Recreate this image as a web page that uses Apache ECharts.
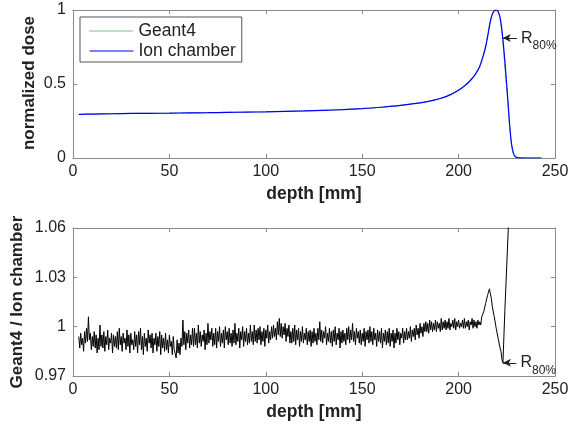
<!DOCTYPE html>
<html>
<head>
<meta charset="utf-8">
<script src="https://cdn.jsdelivr.net/npm/echarts@6/dist/echarts.min.js"></script>
<style>
html,body{margin:0;padding:0;background:#fff;}
#chart{width:572px;height:426px;}
</style>
</head>
<body>
<div id="chart"></div>
<script>
// ---- data ----
const depthTop = [3,10,20,30,40,50,60,70,80,90,100,110,120,130,140,150,160,170,180,185,190,195,200,203,206,209,211,213,214,215,216,217,218,219,219.7,220.5,221.5,222.5,223.5,224.5,225.5,226.5,227.5,228.5,229.5,231,235,240,243];
const doseIonChamber = [0.295,0.297,0.299,0.301,0.302,0.303,0.305,0.306,0.308,0.310,0.312,0.315,0.318,0.322,0.327,0.334,0.343,0.355,0.372,0.384,0.400,0.423,0.458,0.486,0.522,0.572,0.620,0.700,0.750,0.815,0.890,0.950,0.985,0.998,1.000,0.990,0.950,0.860,0.730,0.570,0.400,0.220,0.090,0.030,0.008,0.001,0,0,0];
const doseGeant4 = [0.294,0.297,0.298,0.301,0.302,0.302,0.305,0.306,0.309,0.310,0.313,0.315,0.318,0.323,0.327,0.335,0.343,0.356,0.373,0.385,0.401,0.425,0.460,0.488,0.524,0.575,0.623,0.705,0.757,0.825,0.902,0.960,0.990,1.000,0.998,0.985,0.940,0.840,0.700,0.540,0.380,0.210,0.085,0.028,0.007,0.001,0,0,0];

const ratioStartDepth = 3;   // first depth of ratioMain
const ratioStep = 0.5;       // depth spacing of ratioMain (mm)
const ratioMain = [
0.994,0.987,0.996,0.989,0.993,0.985,0.997,0.990,0.999,0.991,1.006,0.992,0.996,0.986,0.994,0.988,0.997,0.987,0.995,0.984,
0.993,0.986,1.001,0.988,0.995,0.987,0.997,0.985,0.994,0.989,0.998,0.986,0.993,0.990,0.996,0.984,0.995,0.988,0.994,0.987,
0.997,0.986,0.999,0.989,0.994,0.985,0.996,0.990,0.993,0.986,0.998,0.988,0.995,0.984,0.996,0.989,0.992,0.986,0.997,0.988,
0.995,0.984,0.997,0.989,0.999,0.986,0.994,0.983,0.996,0.988,0.993,0.985,0.998,0.990,0.995,0.987,0.996,0.984,0.993,0.989,
0.996,0.985,0.994,0.988,0.997,0.983,0.995,0.987,0.993,0.985,0.996,0.986,0.992,0.984,0.995,0.988,0.991,0.983,0.994,0.986,
0.987,0.981,0.992,0.984,0.990,0.983,0.993,0.988,1.004,0.989,0.997,0.986,0.996,0.990,0.998,0.987,0.995,0.989,0.999,0.988,
0.999,0.989,0.996,0.987,1.001,0.990,0.997,0.988,0.995,0.991,0.998,0.986,0.996,0.989,1.002,0.990,0.997,0.992,0.999,0.988,
0.996,0.989,0.999,0.987,0.997,0.991,1.000,0.988,0.996,0.990,0.998,0.987,1.000,0.992,0.997,0.989,0.999,0.990,0.996,0.988,
0.998,0.990,1.002,0.989,0.996,0.991,0.999,0.987,0.997,0.992,1.000,0.988,0.997,0.991,0.999,0.989,0.996,0.990,1.001,0.991,
0.997,0.989,1.001,0.991,0.998,0.990,0.999,0.992,1.000,0.989,0.997,0.991,0.999,0.988,0.998,0.993,1.001,0.990,0.997,0.992,
1.000,0.993,1.001,0.994,0.999,0.992,1.003,0.995,1.005,0.994,1.002,0.993,1.000,0.995,1.002,0.991,0.999,0.994,1.001,0.990,
0.997,0.990,0.999,0.991,1.001,0.989,0.998,0.992,0.999,0.988,0.997,0.991,1.000,0.990,0.996,0.992,0.999,0.989,0.997,0.991,
0.998,0.988,0.997,0.990,0.999,0.991,0.996,0.989,0.999,0.992,1.003,0.991,0.998,0.990,0.997,0.993,1.000,0.989,0.996,0.991,
0.999,0.990,0.997,0.988,0.998,0.991,1.000,0.989,0.996,0.992,0.999,0.987,0.997,0.990,0.998,0.991,0.996,0.989,0.999,0.992,
1.000,0.990,0.998,0.992,1.002,0.991,0.997,0.989,0.999,0.993,0.997,0.990,0.998,0.989,0.996,0.991,0.999,0.988,0.997,0.992,
0.998,0.990,1.000,0.991,0.997,0.989,0.999,0.992,0.996,0.988,0.998,0.991,0.997,0.990,0.999,0.987,0.996,0.991,0.998,0.989,
0.997,0.990,0.999,0.988,0.996,0.991,0.998,0.987,0.996,0.990,0.999,0.992,0.997,0.989,0.996,0.993,0.999,0.990,0.997,0.992,
0.999,0.992,0.997,0.993,1.000,0.991,0.998,0.994,0.999,0.992,1.001,0.995,0.999,0.993,1.002,0.996,1.000,0.994,1.002,0.997,
1.003,0.997,1.002,0.996,1.004,0.998,1.003,0.997,1.002,0.998,1.004,0.997,1.003,0.999,1.002,0.997,1.005,0.998,1.003,0.999,
1.004,0.998,1.003,0.999,1.005,0.998,1.002,1.000,1.004,0.999,1.005,0.998,1.003,1.000,1.004,0.999,1.002,1.000,1.004,0.999,
1.005,0.999,1.003,1.000,1.004,0.998,1.003,1.001,1.005,0.999,1.004,1.000,1.003,0.999,1.004,1.001
];
const ratioTailDepth = [211,211.5,212,212.5,213,213.5,214,214.5,215,215.5,216,216.5,217,217.5,218,218.5,219,219.5,220,220.5,221,221.5,222,222.5,223,224,225,226];
const ratioTail = [1.003,1.001,1.006,1.005,1.009,1.009,1.014,1.015,1.019,1.020,1.023,1.020,1.017,1.012,1.011,1.006,1.005,0.999,0.998,0.993,0.992,0.987,0.985,0.980,0.978,1.010,1.038,1.066];

const xTicks = [0,50,100,150,200,250];
const doseTicks = [0,0.5,1];
const ratioTicks = [0.97,1,1.03,1.06];
const r80Dose = [222.9, 0.81];
const r80Ratio = [223, 0.978];

// ---- build ----
const topPairs = (ys) => depthTop.map((d,i)=>[d, ys[i]]);
const ratioPairs = ratioMain.map((v,i)=>[ratioStartDepth+i*ratioStep, v]).concat(ratioTailDepth.map((d,i)=>[d, ratioTail[i]]));

const FONT = '"Liberation Sans", Arial, Helvetica, sans-serif';
const frame = '#8a8a8a';
const txt = '#222';

function xAx(grid, pos, labels){
  return {
    gridIndex: grid, type:'value', position: pos,
    min: xTicks[0], max: xTicks[xTicks.length-1], interval: xTicks[1]-xTicks[0],
    axisLine:{show:true, onZero:false, lineStyle:{color:frame, width:1}},
    axisTick:{show:true, inside:true, length:4, lineStyle:{color:frame}},
    axisLabel:{show:labels, fontSize:16, color:txt, fontFamily:FONT, margin:6},
    splitLine:{show:false},
    name: labels ? 'depth [mm]' : '', nameLocation:'middle', nameGap:27,
    nameTextStyle:{fontSize:17.5, fontWeight:'bold', color:txt, fontFamily:FONT}
  };
}
function yAx(grid, pos, labels, ticks){
  return {
    gridIndex: grid, type:'value', position: pos,
    min: ticks[0], max: ticks[ticks.length-1], interval: +(ticks[1]-ticks[0]).toFixed(4),
    axisLine:{show:true, onZero:false, lineStyle:{color:frame, width:1}},
    axisTick:{show:true, inside:true, length:4, lineStyle:{color:frame}},
    axisLabel:{show:labels, fontSize:16, color:txt, fontFamily:FONT, margin:7,
      formatter: v => String(parseFloat((+v).toFixed(2)))},
    splitLine:{show:false}
  };
}
function yName(text, x, y){
  return {type:'text', x:x, y:y, rotation:Math.PI/2, silent:true,
    style:{text:text, fill:txt, font:'bold 17px ' + FONT, textAlign:'center', textVerticalAlign:'middle'}};
}
function r80Mark(pt, len){
  return {
    silent:true, symbol:['arrow','none'], symbolSize:[6,8],
    lineStyle:{color:txt, width:1, type:'solid'},
    emphasis:{disabled:true},
    label:{show:true, position:'end', distance:4, formatter:'{r|R}{s|80%}',
      rich:{
        r:{fontSize:16, lineHeight:16, color:txt, fontFamily:FONT, verticalAlign:'top'},
        s:{fontSize:12, lineHeight:12, color:txt, fontFamily:FONT, verticalAlign:'top', padding:[9.5,0,0,0]}
      }},
    data:[[{coord:pt},{coord:[pt[0]+len, pt[1]]}]]
  };
}

const chart = echarts.init(document.getElementById('chart'), null, {renderer:'canvas'});
chart.setOption({
  backgroundColor:'#fff',
  animation:false,
  textStyle:{fontFamily:FONT},
  grid:[
    {left:73, top:10, width:482, height:148},
    {left:73, top:228, width:482, height:148}
  ],
  xAxis:[xAx(0,'bottom',true), xAx(0,'top',false), xAx(1,'bottom',true), xAx(1,'top',false)],
  yAxis:[
    yAx(0,'left',true,doseTicks), yAx(0,'right',false,doseTicks),
    yAx(1,'left',true,ratioTicks), yAx(1,'right',false,ratioTicks)
  ],
  graphic:[
    yName('normalized dose', 29, 83),
    yName('Geant4 / Ion chamber', 17, 302)
  ],
  legend:{
    left:80, top:17, orient:'vertical',
    data:['Geant4','Ion chamber'],
    itemWidth:44, itemHeight:14, itemGap:2,
    padding:[5,6,2,9],
    borderColor:'#555', borderWidth:1, backgroundColor:'#fff',
    itemStyle:{opacity:0},
    lineStyle:{width:1},
    textStyle:{fontSize:17.5, color:txt, fontFamily:FONT},
    selectedMode:false
  },
  series:[
    {name:'Geant4', type:'line', xAxisIndex:0, yAxisIndex:0, data:topPairs(doseGeant4),
      showSymbol:false, symbol:'none', smooth:0.3, lineStyle:{color:'#008000', width:1, type:'dotted'}, itemStyle:{color:'#008000'}},
    {name:'Ion chamber', type:'line', xAxisIndex:0, yAxisIndex:0, data:topPairs(doseIonChamber),
      showSymbol:false, symbol:'none', smooth:0.3, lineStyle:{color:'#0000ff', width:1.2}, itemStyle:{color:'#0000ff'},
      markLine: r80Mark(r80Dose, 7.4)},
    {name:'ratio', type:'line', xAxisIndex:2, yAxisIndex:2, data:ratioPairs,
      showSymbol:false, symbol:'none', clip:true, lineStyle:{color:'#000', width:1}, itemStyle:{color:'#000'},
      markLine: r80Mark(r80Ratio, 7)}
  ]
});
</script>
</body>
</html>
